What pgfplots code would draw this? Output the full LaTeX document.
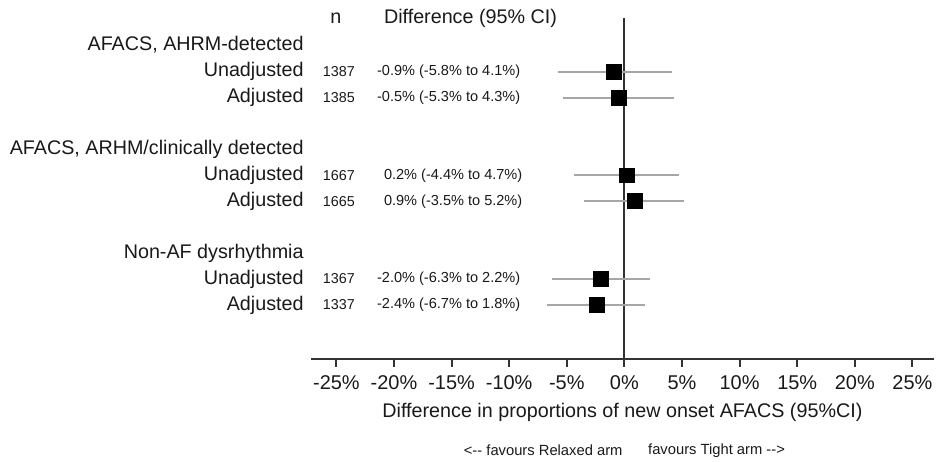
\documentclass[border=0pt]{standalone}
\usepackage{fontspec}
\setmainfont{Liberation Sans}
\usepackage{pgfplots}
\pgfplotsset{compat=1.18}
\usepackage{pgfplotstable}

\pgfplotstableread{
y est lo hi
-72 -0.9 -5.8 4.1
-98 -0.5 -5.3 4.3
-176 0.2 -4.4 4.7
-202 0.9 -3.5 5.2
-280 -2.0 -6.3 2.2
-306 -2.4 -6.7 1.8
}\data

\begin{document}
\begin{tikzpicture}
\begin{axis}[
  scale only axis,
  width=312.5pt, height=171pt,
  xmin=-27.2, xmax=26.86,
  ymin=-360, ymax=-18,
  axis x line=bottom, axis y line=none,
  axis line style={-, line width=1pt, black!80},
  clip=false,
  xtick={-25,-20,-15,-10,-5,0,5,10,15,20,25},
  xticklabels={-25\%,-20\%,-15\%,-10\%,-5\%,0\%,5\%,10\%,15\%,20\%,25\%},
  tick align=outside,
  major tick length=4pt,
  tick style={line width=1pt, black!80},
  ticklabel style={font=\fontsize{10}{12}\selectfont, text=black!90},
  xticklabel style={yshift=-1pt},
  xlabel={Difference in proportions of new onset AFACS (95\%CI)},
  xlabel style={font=\fontsize{9.9}{12}\selectfont, text=black!90, yshift=0pt},
]
% reference line at zero
\addplot[line width=1pt, black!80, mark=none] coordinates {(0,-18) (0,-360)};
% point estimates
\addplot[only marks, mark=square*, mark size=3.75pt, mark options={fill=black, draw=none}] table[x=est, y=y] {\data};
% confidence intervals
\addplot[draw=none, mark=none,
  error bars/.cd, x dir=both, x explicit, error mark=none,
  error bar style={line width=1pt, black!35}]
  table[x=est, y=y, x error minus expr=\thisrow{est}-\thisrow{lo}, x error plus expr=\thisrow{hi}-\thisrow{est}] {\data};

\begin{scope}[every node/.style={inner sep=0pt, text=black!90}]
% header
\node[font=\fontsize{9.9}{12}\selectfont, anchor=center] at (axis cs:-25.04,-18) {n};
\node[font=\fontsize{9.9}{12}\selectfont, anchor=west] at (axis cs:-20.9,-18) {Difference (95\% CI)};
% group labels
\node[font=\fontsize{9.9}{12}\selectfont, anchor=east] at (axis cs:-27.81,-45) {AFACS, AHRM-detected};
\node[font=\fontsize{9.9}{12}\selectfont, anchor=east] at (axis cs:-27.81,-72) {Unadjusted};
\node[font=\fontsize{9.9}{12}\selectfont, anchor=east] at (axis cs:-27.81,-98) {Adjusted};
\node[font=\fontsize{9.9}{12}\selectfont, anchor=east] at (axis cs:-27.81,-150) {AFACS, ARHM/clinically detected};
\node[font=\fontsize{9.9}{12}\selectfont, anchor=east] at (axis cs:-27.81,-176) {Unadjusted};
\node[font=\fontsize{9.9}{12}\selectfont, anchor=east] at (axis cs:-27.81,-202) {Adjusted};
\node[font=\fontsize{9.9}{12}\selectfont, anchor=east] at (axis cs:-27.81,-254) {Non-AF dysrhythmia};
\node[font=\fontsize{9.9}{12}\selectfont, anchor=east] at (axis cs:-27.81,-280) {Unadjusted};
\node[font=\fontsize{9.9}{12}\selectfont, anchor=east] at (axis cs:-27.81,-306) {Adjusted};
% n column
\node[font=\fontsize{7.2}{9}\selectfont] at (axis cs:-24.78,-72) {1387};
\node[font=\fontsize{7.2}{9}\selectfont] at (axis cs:-24.78,-98) {1385};
\node[font=\fontsize{7.2}{9}\selectfont] at (axis cs:-24.78,-176) {1667};
\node[font=\fontsize{7.2}{9}\selectfont] at (axis cs:-24.78,-202) {1665};
\node[font=\fontsize{7.2}{9}\selectfont] at (axis cs:-24.78,-280) {1367};
\node[font=\fontsize{7.2}{9}\selectfont] at (axis cs:-24.78,-306) {1337};
% CI text
\node[font=\fontsize{7.3}{9}\selectfont, anchor=west] at (axis cs:-21.5,-72) {-0.9\% (-5.8\% to 4.1\%)};
\node[font=\fontsize{7.3}{9}\selectfont, anchor=west] at (axis cs:-21.5,-98) {-0.5\% (-5.3\% to 4.3\%)};
\node[font=\fontsize{7.3}{9}\selectfont, anchor=west] at (axis cs:-20.9,-176) {0.2\% (-4.4\% to 4.7\%)};
\node[font=\fontsize{7.3}{9}\selectfont, anchor=west] at (axis cs:-20.9,-202) {0.9\% (-3.5\% to 5.2\%)};
\node[font=\fontsize{7.3}{9}\selectfont, anchor=west] at (axis cs:-21.5,-280) {-2.0\% (-6.3\% to 2.2\%)};
\node[font=\fontsize{7.3}{9}\selectfont, anchor=west] at (axis cs:-21.5,-306) {-2.4\% (-6.7\% to 1.8\%)};
% favours
\node[font=\fontsize{7.4}{9}\selectfont] at (axis cs:-7.05,-452) {<{-}{-} favours Relaxed arm};
\node[font=\fontsize{7.4}{9}\selectfont] at (axis cs:8.0,-452) {favours Tight arm {-}{-}>};
\end{scope}
\coordinate (bbtl) at (axis cs:-54.2,0);
\coordinate (bbbr) at (axis cs:27.03,-463);
\end{axis}
\path (bbtl) rectangle (bbbr);
\end{tikzpicture}
\end{document}
